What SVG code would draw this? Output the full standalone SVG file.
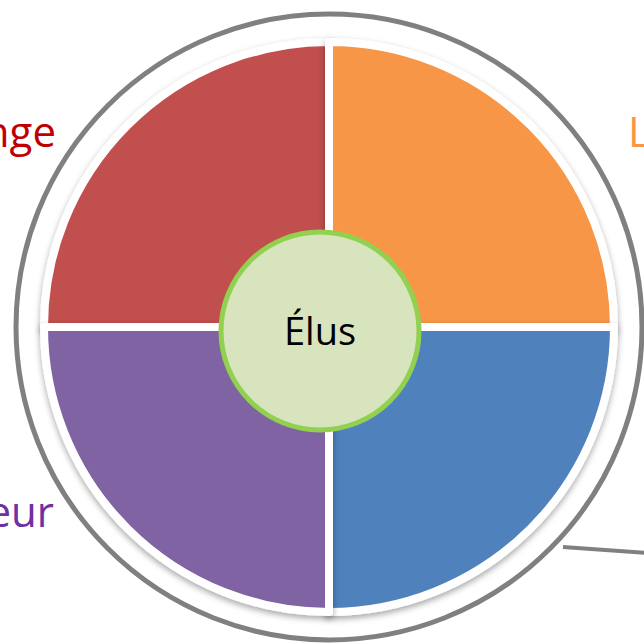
<svg xmlns="http://www.w3.org/2000/svg" width="644" height="644" viewBox="0 0 644 644">
<defs>
<filter id="sh" x="-10%" y="-10%" width="120%" height="120%">
<feDropShadow dx="0" dy="3" stdDeviation="3" flood-color="#000" flood-opacity="0.35"/>
</filter>
<style>
.q{stroke:#fff;stroke-width:8;stroke-linejoin:round;filter:url(#sh)}
.lbl{font-family:"Open Sans","Liberation Sans",sans-serif;font-size:42px}
</style>
</defs>
<rect width="644" height="644" fill="#fff"/>
<g id="labels">
<text class="lbl" x="56" y="147" text-anchor="end" fill="#C00000">nge</text>
<text class="lbl" x="628" y="147" fill="#F79646">L</text>
<text class="lbl" x="54" y="527" text-anchor="end" fill="#7030A0">eur</text>
</g>
<g id="connectors">
<line x1="563" y1="547" x2="646" y2="553" stroke="#808080" stroke-width="4"/>
</g>
<g id="outer-ring">
<circle cx="329" cy="327" r="313" fill="none" stroke="#808080" stroke-width="5"/>
</g>
<g id="q-red"><path class="q" fill="#C0504D" d="M329,327 L44,327 A285,285 0 0 1 329,42 Z"/></g>
<g id="q-orange"><path class="q" fill="#F79646" d="M329,327 L329,42 A285,285 0 0 1 614,327 Z"/></g>
<g id="q-blue"><path class="q" fill="#4F81BD" d="M329,327 L614,327 A285,285 0 0 1 329,612 Z"/></g>
<g id="q-purple"><path class="q" fill="#8064A2" d="M329,327 L329,612 A285,285 0 0 1 44,327 Z"/></g>
<g id="center">
<circle cx="320" cy="331" r="99" fill="#D7E4BD" stroke="#92D050" stroke-width="5"/>
<text x="320" y="345" text-anchor="middle" font-family="'Open Sans','Liberation Sans',sans-serif" font-size="38" fill="#000">Élus</text>
</g>
</svg>
